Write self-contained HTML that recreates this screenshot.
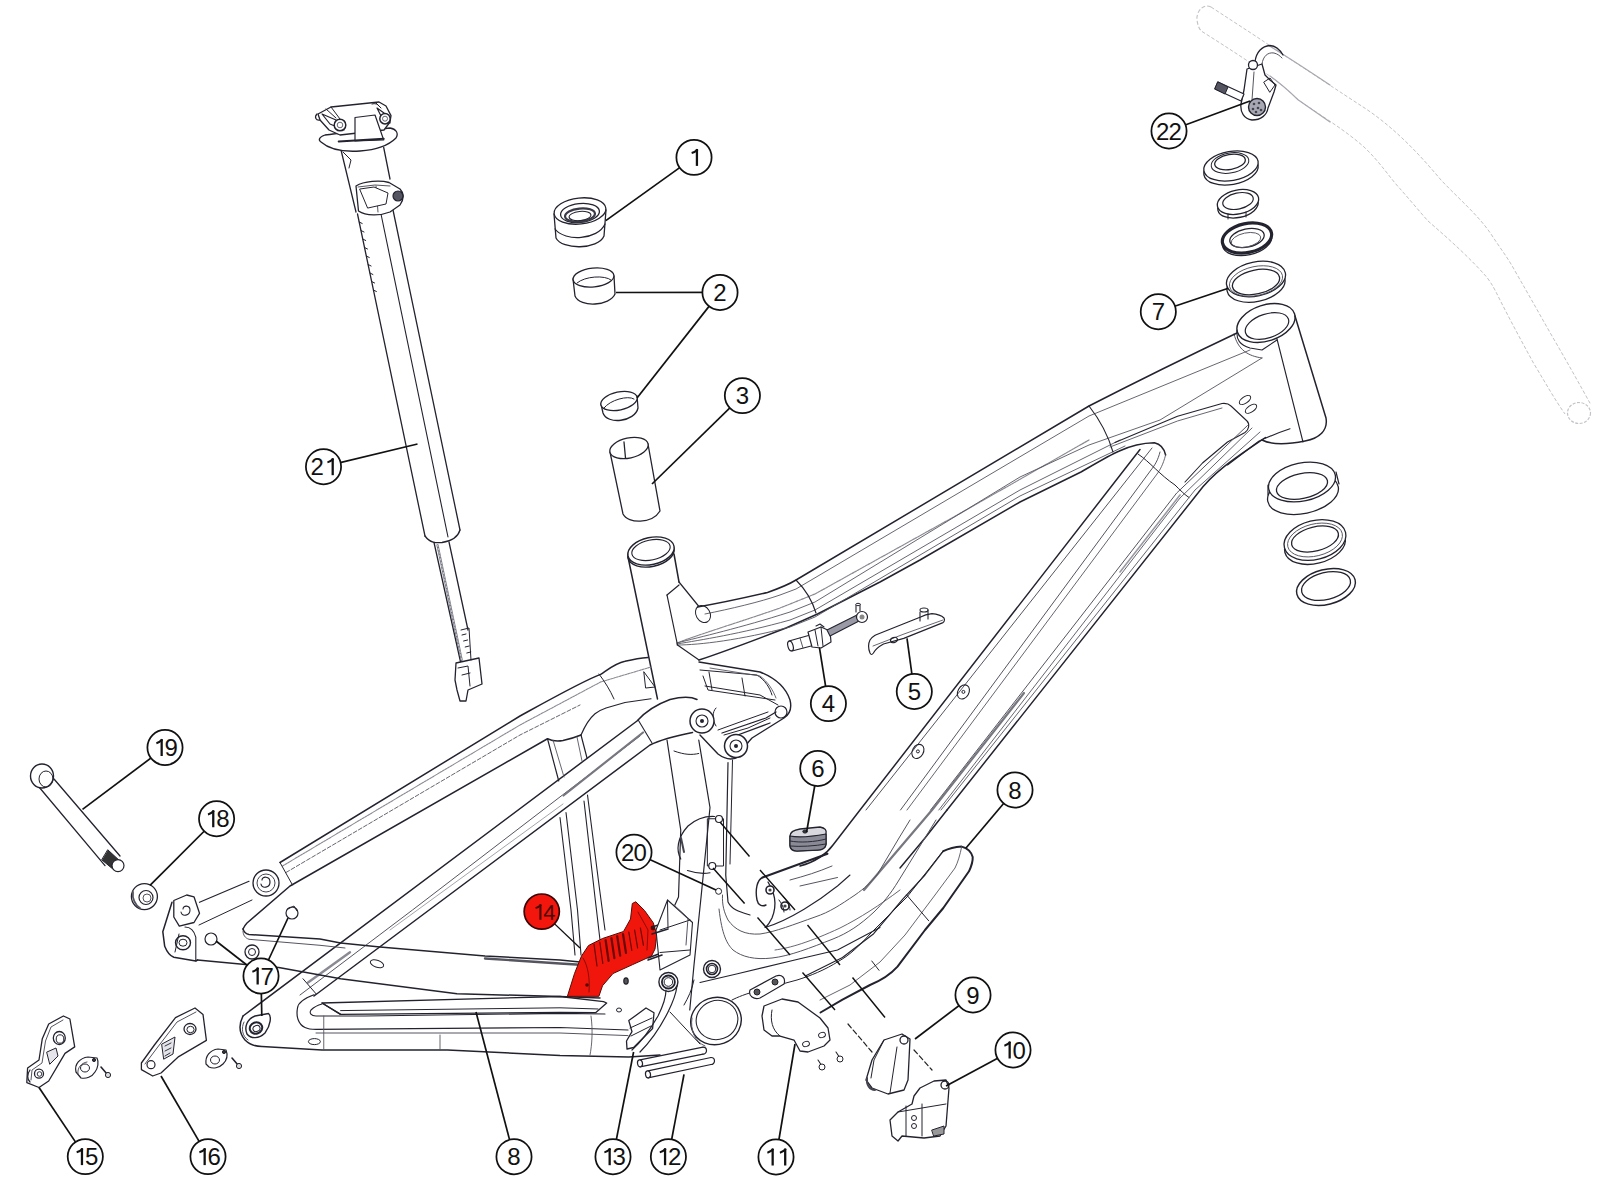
<!DOCTYPE html>
<html><head><meta charset="utf-8"><style>
html,body{margin:0;padding:0;background:#fff;}
svg{display:block;}
text{font-family:"Liberation Sans",sans-serif;}
</style></head><body>
<svg width="1600" height="1200" viewBox="0 0 1600 1200">
<rect width="1600" height="1200" fill="#fff"/>
<ellipse cx="1266" cy="323" rx="30" ry="18" transform="rotate(-18 1266 323)" stroke="#23232f" stroke-width="1.4" fill="#fff"/>
<ellipse cx="1267" cy="326" rx="22.5" ry="12" transform="rotate(-18 1267 326)" stroke="#23232f" stroke-width="1.2" fill="none"/>
<path d="M1295 316 L1326 418 C1328 430 1320 438 1305 441 C1290 444 1272 445 1262 440" stroke="#23232f" stroke-width="1.5" fill="none" stroke-linejoin="round" stroke-linecap="round" />
<path d="M1277 339 L1303 442" stroke="#23232f" stroke-width="1.1" fill="none" stroke-linejoin="round" stroke-linecap="round" />
<path d="M1237 330 C1236 340 1240 345 1250 348 L1262 350 L1277 340" stroke="#23232f" stroke-width="1.1" fill="none" stroke-linejoin="round" stroke-linecap="round" />
<path d="M1234 334 C1238 350 1248 356 1262 358" stroke="#555560" stroke-width="1.0" fill="none" stroke-linejoin="round" stroke-linecap="round" />
<path d="M697.5 607 C715 604 735 600 767.5 592.5 C780 588 788 585 796 580 L1089 406 C1130 385 1180 360 1237 333" stroke="#23232f" stroke-width="1.5" fill="none" stroke-linejoin="round" stroke-linecap="round" />
<path d="M699 660 C720 653 742 645 786 628 L817.5 614 L880 582 L920 560 L1020 502 L1081 472 C1100 461 1110 455 1118.75 451.25 C1128 447 1140 443 1154.4 442.8 C1160 444 1164 448 1165.6 455" stroke="#23232f" stroke-width="1.5" fill="none" stroke-linejoin="round" stroke-linecap="round" />
<path d="M705 614 C730 609 760 602 780 595 L796 589 L1089 416 L1250 350" stroke="#555560" stroke-width="0.9" fill="none" stroke-linejoin="round" stroke-linecap="round" />
<path d="M677 643 C700 634 740 622 780 608 L815 594 L959 514 L1089 440" stroke="#8a8a92" stroke-width="1.2" fill="none" stroke-linejoin="round" stroke-linecap="round" stroke-dasharray="2 1"/>
<path d="M677 643 C700 637 740 628 790 612 L815 602 L1020 477 L1089 445 L1160 420 L1262 358" stroke="#555560" stroke-width="0.9" fill="none" stroke-linejoin="round" stroke-linecap="round" />
<path d="M677 644 C700 640 740 634 790 620 L815 610 L1020 490 L1120 440" stroke="#555560" stroke-width="0.9" fill="none" stroke-linejoin="round" stroke-linecap="round" />
<path d="M677 645 C700 645 740 640 790 627 L815 617 L1020 496 L1125 446" stroke="#555560" stroke-width="0.9" fill="none" stroke-linejoin="round" stroke-linecap="round" />
<path d="M796 580 C806 590 812 600 816 613" stroke="#23232f" stroke-width="1.1" fill="none" stroke-linejoin="round" stroke-linecap="round" />
<path d="M1089 406 C1100 420 1108 435 1113 452" stroke="#23232f" stroke-width="1.1" fill="none" stroke-linejoin="round" stroke-linecap="round" />
<path d="M1115 442.5 L1177.5 416.25 L1222 403.5 C1226 403 1229 404 1231 406 L1247 421 C1250 424 1249 430 1245 432.5 L1227.5 442 L1202.5 463 L1185 482" stroke="#23232f" stroke-width="1.1" fill="none" stroke-linejoin="round" stroke-linecap="round" />
<path d="M1110 447 L1177.5 421 L1222 408" stroke="#555560" stroke-width="0.9" fill="none" stroke-linejoin="round" stroke-linecap="round" />
<ellipse cx="1245" cy="400" rx="6.5" ry="3.2" transform="rotate(-35 1245 400)" stroke="#23232f" stroke-width="1.1" fill="none"/>
<ellipse cx="1251" cy="408.75" rx="6.5" ry="3.2" transform="rotate(-35 1251 408.75)" stroke="#23232f" stroke-width="1.1" fill="none"/>
<path d="M1290 428.75 C1280 432 1268 437 1258.75 441.25 L1227.5 465" stroke="#23232f" stroke-width="1.1" fill="none" stroke-linejoin="round" stroke-linecap="round" />
<path d="M1140 449.5 L860 810 L833 845 C825 856 815 862 800 866" stroke="#23232f" stroke-width="1.5" fill="none" stroke-linejoin="round" stroke-linecap="round" />
<path d="M1152 448 L866 810" stroke="#555560" stroke-width="1.0" fill="none" stroke-linejoin="round" stroke-linecap="round" />
<path d="M1160 452 C1158 460 1155 465 1151 470 L900.5 810" stroke="#555560" stroke-width="1.0" fill="none" stroke-linejoin="round" stroke-linecap="round" />
<path d="M1165.6 455 C1163 465 1160 470 1157 474 L907 810" stroke="#555560" stroke-width="0.9" fill="none" stroke-linejoin="round" stroke-linecap="round" />
<path d="M1138 454 C1150 462 1160 475 1175 485 C1180 490 1185 495 1189 497.5" stroke="#23232f" stroke-width="1.0" fill="none" stroke-linejoin="round" stroke-linecap="round" />
<path d="M1247.5 425.5 L1176.7 493 L930.6 810" stroke="#555560" stroke-width="1.0" fill="none" stroke-linejoin="round" stroke-linecap="round" />
<path d="M1252 428 L1180 498 L938.8 810" stroke="#555560" stroke-width="0.9" fill="none" stroke-linejoin="round" stroke-linecap="round" />
<path d="M1260 432 L1195 490 L941 810" stroke="#555560" stroke-width="0.9" fill="none" stroke-linejoin="round" stroke-linecap="round" />
<path d="M1265.5 437.5 C1240 455 1215 470 1198 493 L947 810" stroke="#23232f" stroke-width="1.5" fill="none" stroke-linejoin="round" stroke-linecap="round" />
<path d="M1180 495 L1120 572" stroke="#9a9aa2" stroke-width="1.6" fill="none" stroke-linejoin="round" stroke-linecap="round" />
<path d="M1024 693 L932 810 L864 890" stroke="#77777f" stroke-width="2.2" fill="none" stroke-linejoin="round" stroke-linecap="round" />
<ellipse cx="963.4" cy="691.9" rx="5.5" ry="7.5" transform="rotate(30 963.4 691.9)" stroke="#23232f" stroke-width="1.1" fill="none"/>
<ellipse cx="963.4" cy="691.9" rx="1.5" ry="1.5" transform="rotate(0 963.4 691.9)" stroke="#23232f" stroke-width="1.0" fill="none"/>
<ellipse cx="917.9" cy="751.4" rx="5.5" ry="7.5" transform="rotate(30 917.9 751.4)" stroke="#23232f" stroke-width="1.1" fill="none"/>
<ellipse cx="917.9" cy="751.4" rx="1.5" ry="1.5" transform="rotate(0 917.9 751.4)" stroke="#23232f" stroke-width="1.0" fill="none"/>
<ellipse cx="651" cy="553" rx="23.5" ry="13.5" transform="rotate(-12 651 553)" stroke="#23232f" stroke-width="1.4" fill="none"/>
<ellipse cx="651" cy="551" rx="23.5" ry="13.5" transform="rotate(-12 651 551)" stroke="#23232f" stroke-width="1.4" fill="#fff"/>
<ellipse cx="651" cy="550" rx="19.5" ry="10" transform="rotate(-12 651 550)" stroke="#23232f" stroke-width="1.1" fill="none"/>
<path d="M628 557 L657.5 699" stroke="#23232f" stroke-width="1.5" fill="none" stroke-linejoin="round" stroke-linecap="round" />
<path d="M674 554 L679 582" stroke="#23232f" stroke-width="1.5" fill="none" stroke-linejoin="round" stroke-linecap="round" />
<path d="M667 595 L677.5 645 L699 660" stroke="#23232f" stroke-width="1.2" fill="none" stroke-linejoin="round" stroke-linecap="round" />
<path d="M667 595 L679 585" stroke="#23232f" stroke-width="1.2" fill="none" stroke-linejoin="round" stroke-linecap="round" />
<path d="M679 582 L698.5 606" stroke="#23232f" stroke-width="1.2" fill="none" stroke-linejoin="round" stroke-linecap="round" />
<ellipse cx="703" cy="614" rx="7" ry="9" transform="rotate(-30 703 614)" stroke="#23232f" stroke-width="1.0" fill="none"/>
<path d="M667 740 L680.75 830 L678.5 897 L668 920" stroke="#23232f" stroke-width="1.2" fill="none" stroke-linejoin="round" stroke-linecap="round" />
<path d="M698.75 740 L710 807.5 L701 897.5 L694 965 L689.75 1010" stroke="#23232f" stroke-width="1.2" fill="none" stroke-linejoin="round" stroke-linecap="round" />
<path d="M728 762.5 L725.75 875 L728 902 C732 910 740 912 750 915" stroke="#23232f" stroke-width="1.2" fill="none" stroke-linejoin="round" stroke-linecap="round" />
<path d="M732.5 760 L730 864" stroke="#23232f" stroke-width="1.0" fill="none" stroke-linejoin="round" stroke-linecap="round" />
<path d="M674 751 C685 755 692 755 698.75 753.5" stroke="#23232f" stroke-width="1.0" fill="none" stroke-linejoin="round" stroke-linecap="round" />
<path d="M947 810 L925 838 C915 850 905 862 900 868" stroke="#23232f" stroke-width="1.5" fill="none" stroke-linejoin="round" stroke-linecap="round" />
<path d="M910 820 L899 838 L877 875 C870 883 865 888 855 895 C840 905 830 912 815 917 C795 924 775 932 760 934 C745 935 735 930 728 920 C724 912 722 905 722.5 895" stroke="#555560" stroke-width="1.0" fill="none" stroke-linejoin="round" stroke-linecap="round" />
<path d="M936 820 L899 880 C890 895 882 904 874 912 C860 925 848 933 833 939 C810 948 790 956 772 958 C755 960 742 957 733 950 C727 944 722 935 719 909" stroke="#555560" stroke-width="1.0" fill="none" stroke-linejoin="round" stroke-linecap="round" />
<path d="M943 851 L907 897 L870 934 C860 945 850 955 839 961 C825 970 810 976 797 980 L760 990 C745 994 738 997 732 1000" stroke="#23232f" stroke-width="1.0" fill="none" stroke-linejoin="round" stroke-linecap="round" />
<path d="M900 890 C880 905 860 918 840 928 C810 942 790 948 775 950" stroke="#555560" stroke-width="0.9" fill="none" stroke-linejoin="round" stroke-linecap="round" />
<path d="M943.3 851.2 C950 848 956 847 961.7 846.6 C967 848 971 851 972.7 857 C973 862 971 867 969 871.3 L943.3 908 L925 930 L897.5 966.7 C890 975 880 981 870 985 L842.5 999.7 L820.5 1012.5" stroke="#23232f" stroke-width="2.0" fill="none" stroke-linejoin="round" stroke-linecap="round" />
<path d="M943.3 851.2 L925 875 L903 898.8 L873.7 933.7 L842.5 957.5 L805.8 975.8" stroke="#23232f" stroke-width="1.2" fill="none" stroke-linejoin="round" stroke-linecap="round" />
<path d="M961.7 846.6 C960 855 958 862 955 868 L935 895 L905 935 L880 962 L850 985 L820 1000" stroke="#555560" stroke-width="0.9" fill="none" stroke-linejoin="round" stroke-linecap="round" />
<path d="M906.7 895 L928.7 920.8" stroke="#23232f" stroke-width="1.0" fill="none" stroke-linejoin="round" stroke-linecap="round" />
<path d="M871.8 961 L879 970.3" stroke="#23232f" stroke-width="1.0" fill="none" stroke-linejoin="round" stroke-linecap="round" />
<path d="M243 1016 L637 721 C645 712 655 705 670 699.5 C680 697 690 696 697 699.5" stroke="#23232f" stroke-width="1.5" fill="none" stroke-linejoin="round" stroke-linecap="round" />
<path d="M300 995 L412.5 910 L562.5 795 L640 736" stroke="#555560" stroke-width="1.0" fill="none" stroke-linejoin="round" stroke-linecap="round" />
<path d="M314 996 L650 745 C660 740 670 737 692.5 732.5" stroke="#23232f" stroke-width="1.5" fill="none" stroke-linejoin="round" stroke-linecap="round" />
<path d="M563.5 795.5 L643 732.5" stroke="#77777f" stroke-width="2.2" fill="none" stroke-linejoin="round" stroke-linecap="round" />
<path d="M308 982.5 L350 952.2" stroke="#8a8a92" stroke-width="2.4" fill="none" stroke-linejoin="round" stroke-linecap="round" />
<path d="M390 930 L563 804" stroke="#9a9aa2" stroke-width="0.9" fill="none" stroke-linejoin="round" stroke-linecap="round" />
<path d="M638.5 720.5 L652 743" stroke="#23232f" stroke-width="1.1" fill="none" stroke-linejoin="round" stroke-linecap="round" />
<path d="M303 978.75 L316 993.75" stroke="#23232f" stroke-width="1.0" fill="none" stroke-linejoin="round" stroke-linecap="round" />
<path d="M243 1016 C239 1024 239 1033 245 1040 C250 1045 256 1046.5 262 1046.5 L322 1050 L447.5 1050 L560 1055.6 L628.8 1057 L660 1055" stroke="#23232f" stroke-width="1.5" fill="none" stroke-linejoin="round" stroke-linecap="round" />
<path d="M247 1034 C244 1027 247 1019 255 1016 L268.5 1013.5 C271.5 1016 271 1025 265 1033 C259 1039 251 1039 247 1034 Z" stroke="#23232f" stroke-width="1.4" fill="none" stroke-linejoin="round" stroke-linecap="round" />
<ellipse cx="256" cy="1028" rx="6.3" ry="5.6" transform="rotate(-20 256 1028)" stroke="#23232f" stroke-width="2.0" fill="none"/>
<ellipse cx="256.5" cy="1028.5" rx="3.6" ry="3" transform="rotate(-20 256.5 1028.5)" stroke="#23232f" stroke-width="1.0" fill="none"/>
<path d="M244 1022 C241 1028 242 1036 248 1040" stroke="#555560" stroke-width="1.0" fill="none" stroke-linejoin="round" stroke-linecap="round" />
<path d="M314 994.7 C305 998 298 1002 297.5 1008 C296 1016 298 1024 305 1027.5 C308 1029 312 1029.4 316 1029.4 L560 1027.5 L628 1030" stroke="#23232f" stroke-width="1.2" fill="none" stroke-linejoin="round" stroke-linecap="round" />
<path d="M322 1004 C318 1005 314 1007 311 1010 C309 1013 311 1016 316 1016 L365 1016 L560 1013.4 L605 1014" stroke="#23232f" stroke-width="1.1" fill="none" stroke-linejoin="round" stroke-linecap="round" />
<path d="M316 1033 L560 1033 L628 1035.6" stroke="#555560" stroke-width="1.0" fill="none" stroke-linejoin="round" stroke-linecap="round" />
<path d="M323.75 1016 L323.75 1050" stroke="#555560" stroke-width="0.9" fill="none" stroke-linejoin="round" stroke-linecap="round" />
<path d="M440 1035 L440 1050" stroke="#555560" stroke-width="0.9" fill="none" stroke-linejoin="round" stroke-linecap="round" />
<path d="M591 1016 C593 1030 592 1045 590 1055" stroke="#555560" stroke-width="0.9" fill="none" stroke-linejoin="round" stroke-linecap="round" />
<ellipse cx="314.4" cy="1041.6" rx="6" ry="3" transform="rotate(0 314.4 1041.6)" stroke="#23232f" stroke-width="1.0" fill="none"/>
<path d="M322 1003 L560 996.5 L603.5 1001.6 L606.7 1003 L595.6 1012.7 L560 1012.5 L340.6 1014.4 Z" stroke="#23232f" stroke-width="1.3" fill="#fff" stroke-linejoin="round" stroke-linecap="round" />
<path d="M340.6 1010.6 L560 1007.8 L598 1009" stroke="#23232f" stroke-width="1.0" fill="none" stroke-linejoin="round" stroke-linecap="round" />
<path d="M322 1003 L340.6 1014.4" stroke="#23232f" stroke-width="1.3" fill="none" stroke-linejoin="round" stroke-linecap="round" />
<path d="M243 929 C244 932 246 934 249 934.5 L320 939 L340.6 943 L380 947 L485 956 L560 960 L600 964" stroke="#23232f" stroke-width="1.5" fill="none" stroke-linejoin="round" stroke-linecap="round" />
<path d="M243 931 C243 935 245 938 249 939.3 L320 945.3 L345 948" stroke="#555560" stroke-width="1.0" fill="none" stroke-linejoin="round" stroke-linecap="round" />
<path d="M197.5 960 L278.75 967.5 L340.6 978.75 L457 993.75 L560 996.5 L600 998" stroke="#23232f" stroke-width="1.5" fill="none" stroke-linejoin="round" stroke-linecap="round" />
<path d="M485 958.5 L560 963.5 L600 966" stroke="#55555f" stroke-width="2.4" fill="none" stroke-linejoin="round" stroke-linecap="round" />
<ellipse cx="377" cy="963.75" rx="7" ry="3.5" transform="rotate(20 377 963.75)" stroke="#23232f" stroke-width="1.0" fill="none"/>
<path d="M199.5 902.3 L249 881.25" stroke="#23232f" stroke-width="1.2" fill="none" stroke-linejoin="round" stroke-linecap="round" />
<path d="M280 862.5 L520 716 C560 694 585 680 600.6 674.4 C610 668 616 663 625 661.25 C635 659 642 658 648 657.5" stroke="#23232f" stroke-width="1.5" fill="none" stroke-linejoin="round" stroke-linecap="round" />
<path d="M243 929 C244 927 245 925 247 923 L290 886 L547.5 738.75 C552 741 558 741.5 563 740.6 C570 739 576 737 581 735" stroke="#23232f" stroke-width="1.5" fill="none" stroke-linejoin="round" stroke-linecap="round" />
<path d="M581 735 C584 728 590 718 595 713.75 C600 710 603 709 606 708 L625 702.5 L651 698.75" stroke="#23232f" stroke-width="1.2" fill="none" stroke-linejoin="round" stroke-linecap="round" />
<path d="M282.5 866 L520 725 L600.6 682 L651 667" stroke="#8a8a92" stroke-width="1.1" fill="none" stroke-linejoin="round" stroke-linecap="round" stroke-dasharray="2 1"/>
<path d="M286 872.5 L520 735 L580 705" stroke="#555560" stroke-width="0.9" fill="none" stroke-linejoin="round" stroke-linecap="round" stroke-dasharray="4 2"/>
<path d="M599 674 C605 682 610 690 614 699" stroke="#23232f" stroke-width="1.0" fill="none" stroke-linejoin="round" stroke-linecap="round" />
<path d="M644 672 L655 687 L646 688 Z" stroke="#23232f" stroke-width="1.0" fill="none" stroke-linejoin="round" stroke-linecap="round" />
<path d="M280 862.5 L292.5 885" stroke="#23232f" stroke-width="1.0" fill="none" stroke-linejoin="round" stroke-linecap="round" />
<path d="M199 925 L252 900" stroke="#23232f" stroke-width="1.0" fill="none" stroke-linejoin="round" stroke-linecap="round" />
<circle cx="266" cy="883" r="13" fill="#fff" stroke="#23232f" stroke-width="1.3"/>
<circle cx="266" cy="883" r="9" fill="none" stroke="#44444f" stroke-width="1.0"/>
<path d="M262 880 C262 876 270 876 270 882 C270 888 262 889 261 884" stroke="#23232f" stroke-width="1.2" fill="none" stroke-linejoin="round" stroke-linecap="round" />
<path d="M547.5 738.75 L558.75 781" stroke="#23232f" stroke-width="1.2" fill="none" stroke-linejoin="round" stroke-linecap="round" />
<path d="M553 740 L564 777" stroke="#555560" stroke-width="0.9" fill="none" stroke-linejoin="round" stroke-linecap="round" />
<path d="M581 735 L587 758" stroke="#23232f" stroke-width="1.2" fill="none" stroke-linejoin="round" stroke-linecap="round" />
<path d="M577 737 L582 761" stroke="#555560" stroke-width="0.9" fill="none" stroke-linejoin="round" stroke-linecap="round" />
<path d="M560 817.5 L571 910 L575 955" stroke="#23232f" stroke-width="1.1" fill="none" stroke-linejoin="round" stroke-linecap="round" />
<path d="M566 812.5 L577.5 910 L581 955" stroke="#23232f" stroke-width="1.1" fill="none" stroke-linejoin="round" stroke-linecap="round" />
<path d="M584 801 L595 897.5 L600 940" stroke="#23232f" stroke-width="1.1" fill="none" stroke-linejoin="round" stroke-linecap="round" />
<path d="M587.5 795 L599 885 L605 930" stroke="#23232f" stroke-width="1.1" fill="none" stroke-linejoin="round" stroke-linecap="round" />
<path d="M173.8 900.5 L186.7 895 L194 896.8 L199.5 913.3 L194 922.5 L179.3 926.2 L173.8 917 Z" stroke="#23232f" stroke-width="1.3" fill="#fff" stroke-linejoin="round" stroke-linecap="round" />
<path d="M172 902.3 L162.8 931.7 L164.7 946.3 C167 952 170 956 173.8 957.3 L195.8 961 L197.5 960" stroke="#23232f" stroke-width="1.5" fill="none" stroke-linejoin="round" stroke-linecap="round" />
<path d="M195.8 961 L195.8 937.2 C194 930 190 927 185 927" stroke="#23232f" stroke-width="1.1" fill="none" stroke-linejoin="round" stroke-linecap="round" />
<ellipse cx="183" cy="942.7" rx="7.5" ry="7" transform="rotate(0 183 942.7)" stroke="#23232f" stroke-width="1.4" fill="none"/>
<ellipse cx="183" cy="942.7" rx="4" ry="3.5" transform="rotate(0 183 942.7)" stroke="#23232f" stroke-width="1.0" fill="none"/>
<path d="M183 909 C183 905 190 905 190 910 C190 916 182 917 181 912" stroke="#23232f" stroke-width="1.1" fill="none" stroke-linejoin="round" stroke-linecap="round" />
<path d="M179 934 L175 952" stroke="#23232f" stroke-width="1.0" fill="none" stroke-linejoin="round" stroke-linecap="round" />
<ellipse cx="716" cy="1021" rx="25.5" ry="23.5" transform="rotate(-20 716 1021)" stroke="#23232f" stroke-width="1.4" fill="#fff"/>
<ellipse cx="717" cy="1020" rx="21" ry="19.5" transform="rotate(-20 717 1020)" stroke="#23232f" stroke-width="1.1" fill="none"/>
<path d="M692 1018 C690 1030 695 1042 705 1046" stroke="#555560" stroke-width="1.0" fill="none" stroke-linejoin="round" stroke-linecap="round" />
<path d="M699 662 L760 672 C775 678 786 688 790 700 C792 708 790 714 784 718 L752 738 C746 744 743 750 740 756 C734 760 726 760 718 754 L700 735" stroke="#23232f" stroke-width="1.4" fill="#fff" stroke-linejoin="round" stroke-linecap="round" />
<path d="M700 670 L757 675 C765 680 770 688 772 695" stroke="#23232f" stroke-width="1.0" fill="none" stroke-linejoin="round" stroke-linecap="round" />
<path d="M705 686 L760 695 L778 705" stroke="#23232f" stroke-width="1.0" fill="none" stroke-linejoin="round" stroke-linecap="round" />
<path d="M718 730 L740 722 L768 712" stroke="#23232f" stroke-width="1.0" fill="none" stroke-linejoin="round" stroke-linecap="round" />
<path d="M724 735 L748 728 L770 718" stroke="#23232f" stroke-width="1.0" fill="none" stroke-linejoin="round" stroke-linecap="round" />
<ellipse cx="781" cy="712" rx="6" ry="6" transform="rotate(0 781 712)" stroke="#23232f" stroke-width="1.2" fill="none"/>
<path d="M709 672 L712 690 M742 678 L745 696" stroke="#23232f" stroke-width="1.0" fill="none" stroke-linejoin="round" stroke-linecap="round" />
<path d="M703 676 L708 690 L775 700" stroke="#23232f" stroke-width="1.0" fill="none" stroke-linejoin="round" stroke-linecap="round" />
<path d="M710 668 L760 676 C768 682 773 690 776 698" stroke="#555560" stroke-width="0.9" fill="none" stroke-linejoin="round" stroke-linecap="round" />
<path d="M722 733 L766 718 L776 712 M727 739 L770 723" stroke="#23232f" stroke-width="1.3" fill="none" stroke-linejoin="round" stroke-linecap="round" />
<path d="M716 726 C712 720 712 712 716 708" stroke="#23232f" stroke-width="1.0" fill="none" stroke-linejoin="round" stroke-linecap="round" />
<circle cx="702" cy="721" r="12" fill="#fff" stroke="#23232f" stroke-width="1.5"/>
<circle cx="702" cy="721" r="6" fill="none" stroke="#23232f" stroke-width="1.1"/>
<circle cx="702" cy="721" r="2" fill="#23232f"/>
<circle cx="736" cy="746" r="11.5" fill="#fff" stroke="#23232f" stroke-width="1.5"/>
<circle cx="736" cy="746" r="6" fill="none" stroke="#23232f" stroke-width="1.1"/>
<circle cx="736" cy="746" r="2" fill="#23232f"/>
<path d="M1211 7 C1240 26 1262 40 1280 52.5 C1310 72 1340 92 1364 107.6 C1395 128 1420 155 1441 180 C1460 200 1478 215 1491 234 C1500 248 1508 258 1515 271 C1530 297 1540 315 1552 336 C1566 360 1580 385 1591 405" stroke="#c2c2c8" stroke-width="1.0" fill="none" stroke-dasharray="3.5 2"/>
<path d="M1202 31.5 C1225 46 1248 61 1266 73.5 C1280 83 1290 92 1298 99.7 C1320 115 1345 130 1364 147 C1380 162 1390 178 1400 188.7 C1410 200 1420 212 1428 221 C1450 240 1472 260 1487 277.5 C1492 284 1495 290 1497.5 295 C1510 320 1522 342 1534 364 C1545 382 1555 400 1565 414" stroke="#c2c2c8" stroke-width="1.0" fill="none" stroke-dasharray="3.5 2"/>
<path d="M1211 7 C1203 3 1196 12 1197 20 C1198 27 1200 30 1202 31.5" stroke="#c2c2c8" stroke-width="1.1" fill="none" stroke-dasharray="4 2"/>
<ellipse cx="1579" cy="413" rx="11.5" ry="10.5" stroke="#c2c2c8" stroke-width="1.2" fill="#fff" stroke-dasharray="3 1.5"/>
<path d="M1268 45 C1272 47.5 1276 50 1280 52.5 C1300 65 1315 75 1330 85" stroke="#a8a8b0" stroke-width="1.2" fill="none" stroke-linejoin="round" stroke-linecap="round" />
<path d="M1270 76 C1280 83 1290 92 1298 99.7 C1310 108 1320 115 1330 122" stroke="#a8a8b0" stroke-width="1.2" fill="none" stroke-linejoin="round" stroke-linecap="round" />
<path d="M1255 62 C1256 52 1262 46 1270 45.5 C1276 46 1280 50 1283 55" stroke="#23232f" stroke-width="1.3" fill="none" stroke-linejoin="round" stroke-linecap="round" />
<path d="M1262 64 C1263 56 1268 52 1274 53 C1278 54 1280 56 1282 58" stroke="#555560" stroke-width="1.0" fill="none" stroke-linejoin="round" stroke-linecap="round" />
<path d="M1247 69 L1244 90 L1241 104 C1240 112 1244 119 1252 120 C1261 120 1267 115 1268 108 L1274 92 L1276 85 L1270 80 L1265 75 L1262 64 Z" stroke="#23232f" stroke-width="1.3" fill="#fff" stroke-linejoin="round" stroke-linecap="round" />
<path d="M1254 72 L1252 100" stroke="#555560" stroke-width="1.0" fill="none" stroke-linejoin="round" stroke-linecap="round" />
<circle cx="1253" cy="65" r="4.5" fill="#fff" stroke="#23232f" stroke-width="1.3"/>
<circle cx="1257" cy="107" r="8.5" fill="#a8a8b4" stroke="#23232f" stroke-width="1.4"/>
<circle cx="1254" cy="104" r="1.3" fill="#44444f"/>
<circle cx="1259" cy="103" r="1.3" fill="#44444f"/>
<circle cx="1253" cy="109" r="1.3" fill="#44444f"/>
<circle cx="1258" cy="108" r="1.3" fill="#44444f"/>
<circle cx="1261" cy="110" r="1.3" fill="#44444f"/>
<circle cx="1256" cy="112" r="1.3" fill="#44444f"/>
<path d="M1264 82 L1270 78 L1275 85 L1270 92 Z" stroke="#23232f" stroke-width="1.0" fill="none" stroke-linejoin="round" stroke-linecap="round" />
<path d="M1218 82 L1244 94 L1241 101 L1215 89 Z" stroke="#23232f" stroke-width="1.2" fill="#fff" stroke-linejoin="round" stroke-linecap="round" />
<path d="M1218 82 L1228 87 L1225 94 L1215 89 Z" stroke="#23232f" stroke-width="1.0" fill="#555562" stroke-linejoin="round" stroke-linecap="round" />
<ellipse cx="1231" cy="170" rx="27.5" ry="14.5" transform="rotate(-10 1231 170)" stroke="#23232f" stroke-width="1.3" fill="none"/>
<ellipse cx="1231" cy="166" rx="27.5" ry="14.5" transform="rotate(-10 1231 166)" stroke="#23232f" stroke-width="1.3" fill="#fff"/>
<ellipse cx="1230" cy="163" rx="19" ry="10" transform="rotate(-10 1230 163)" stroke="#23232f" stroke-width="1.0" fill="none"/>
<ellipse cx="1230" cy="162" rx="15.5" ry="7.5" transform="rotate(-10 1230 162)" stroke="#23232f" stroke-width="1.3" fill="none"/>
<ellipse cx="1238" cy="206" rx="20.5" ry="11.5" transform="rotate(-12 1238 206)" stroke="#23232f" stroke-width="1.3" fill="none"/>
<ellipse cx="1238" cy="202" rx="21" ry="12" transform="rotate(-12 1238 202)" stroke="#23232f" stroke-width="1.3" fill="#fff"/>
<ellipse cx="1238" cy="201" rx="15.5" ry="8" transform="rotate(-12 1238 201)" stroke="#23232f" stroke-width="1.2" fill="none"/>
<path d="M1228 214 L1228 219 M1246 212 L1246 217" stroke="#23232f" stroke-width="1.0" fill="none" stroke-linejoin="round" stroke-linecap="round" />
<ellipse cx="1247" cy="241" rx="25" ry="14" transform="rotate(-12 1247 241)" stroke="#23232f" stroke-width="1.3" fill="none"/>
<ellipse cx="1247" cy="238" rx="25" ry="14.5" transform="rotate(-12 1247 238)" stroke="#23232f" stroke-width="3.2" fill="#fff"/>
<ellipse cx="1247" cy="238" rx="17.5" ry="9" transform="rotate(-12 1247 238)" stroke="#23232f" stroke-width="1.3" fill="none"/>
<ellipse cx="1246" cy="240" rx="15" ry="7" transform="rotate(-12 1246 240)" stroke="#555560" stroke-width="0.9" fill="none"/>
<ellipse cx="1256" cy="285" rx="29.5" ry="16.5" transform="rotate(-12 1256 285)" stroke="#23232f" stroke-width="1.3" fill="none"/>
<ellipse cx="1256" cy="279" rx="30" ry="17" transform="rotate(-12 1256 279)" stroke="#23232f" stroke-width="1.3" fill="#fff"/>
<ellipse cx="1256" cy="282" rx="24" ry="12" transform="rotate(-12 1256 282)" stroke="#23232f" stroke-width="1.3" fill="none"/>
<ellipse cx="1256" cy="281" rx="27" ry="14.5" transform="rotate(-12 1256 281)" stroke="#555560" stroke-width="0.9" fill="none"/>
<ellipse cx="1303" cy="494" rx="36" ry="19.5" transform="rotate(-12 1303 494)" stroke="#23232f" stroke-width="1.3" fill="none"/>
<ellipse cx="1302" cy="482" rx="34" ry="19" transform="rotate(-12 1302 482)" stroke="#23232f" stroke-width="1.3" fill="#fff"/>
<ellipse cx="1302" cy="486" rx="26" ry="12.5" transform="rotate(-12 1302 486)" stroke="#23232f" stroke-width="1.3" fill="none"/>
<path d="M1268 485 L1268 495 M1336 472 L1339 484" stroke="#23232f" stroke-width="1.2" fill="none" stroke-linejoin="round" stroke-linecap="round" />
<ellipse cx="1315" cy="545" rx="31" ry="18.5" transform="rotate(-14 1315 545)" stroke="#23232f" stroke-width="1.3" fill="none"/>
<ellipse cx="1315" cy="540" rx="31.5" ry="19.5" transform="rotate(-14 1315 540)" stroke="#23232f" stroke-width="1.3" fill="#fff"/>
<ellipse cx="1315" cy="539" rx="24" ry="12" transform="rotate(-14 1315 539)" stroke="#23232f" stroke-width="1.3" fill="none"/>
<ellipse cx="1315" cy="540" rx="28" ry="16" transform="rotate(-14 1315 540)" stroke="#555560" stroke-width="0.9" fill="none"/>
<ellipse cx="1326" cy="587" rx="30" ry="17.5" transform="rotate(-14 1326 587)" stroke="#23232f" stroke-width="1.4" fill="#fff"/>
<ellipse cx="1326" cy="586" rx="25" ry="13.5" transform="rotate(-14 1326 586)" stroke="#23232f" stroke-width="1.3" fill="none"/>
<path d="M357.5 214 L425 536" stroke="#23232f" stroke-width="1.3" fill="none" stroke-linejoin="round" stroke-linecap="round" />
<path d="M393 210 L460 530" stroke="#23232f" stroke-width="1.3" fill="none" stroke-linejoin="round" stroke-linecap="round" />
<path d="M381 214 L448 537" stroke="#23232f" stroke-width="1.1" fill="none" stroke-linejoin="round" stroke-linecap="round" />
<path d="M425 536 C430 543 436 543 442 542.5 C452 541 458 537 460 530" stroke="#23232f" stroke-width="1.3" fill="none" stroke-linejoin="round" stroke-linecap="round" />
<path d="M359.2 222.0 L362.2 223.5" stroke="#23232f" stroke-width="1.0" fill="none" stroke-linejoin="round" stroke-linecap="round" />
<path d="M361.0 230.5 L364.0 232.0" stroke="#23232f" stroke-width="1.0" fill="none" stroke-linejoin="round" stroke-linecap="round" />
<path d="M362.7 239.0 L365.7 240.5" stroke="#23232f" stroke-width="1.0" fill="none" stroke-linejoin="round" stroke-linecap="round" />
<path d="M364.5 247.5 L367.5 249.0" stroke="#23232f" stroke-width="1.0" fill="none" stroke-linejoin="round" stroke-linecap="round" />
<path d="M366.3 256.0 L369.3 257.5" stroke="#23232f" stroke-width="1.0" fill="none" stroke-linejoin="round" stroke-linecap="round" />
<path d="M368.1 264.5 L371.1 266.0" stroke="#23232f" stroke-width="1.0" fill="none" stroke-linejoin="round" stroke-linecap="round" />
<path d="M369.9 273.0 L372.9 274.5" stroke="#23232f" stroke-width="1.0" fill="none" stroke-linejoin="round" stroke-linecap="round" />
<path d="M371.6 281.5 L374.6 283.0" stroke="#23232f" stroke-width="1.0" fill="none" stroke-linejoin="round" stroke-linecap="round" />
<path d="M373.4 290.0 L376.4 291.5" stroke="#23232f" stroke-width="1.0" fill="none" stroke-linejoin="round" stroke-linecap="round" />
<path d="M341 150 L356 212" stroke="#23232f" stroke-width="1.3" fill="none" stroke-linejoin="round" stroke-linecap="round" />
<path d="M383.7 147.5 L390 179" stroke="#23232f" stroke-width="1.3" fill="none" stroke-linejoin="round" stroke-linecap="round" />
<path d="M356 186 L358.5 211 C366 216 380 216 390 212 L400 205 C404 199 404 193 400 189 L389 182.5 C380 180 364 181 356 186 Z" stroke="#23232f" stroke-width="1.3" fill="#fff" stroke-linejoin="round" stroke-linecap="round" />
<path d="M358 187 L375 185 L390 186" stroke="#555560" stroke-width="1.0" fill="none" stroke-linejoin="round" stroke-linecap="round" />
<path d="M376 186 L378 212" stroke="#555560" stroke-width="1.0" fill="none" stroke-linejoin="round" stroke-linecap="round" />
<circle cx="398" cy="196" r="5" fill="#555562" stroke="#23232f" stroke-width="1.2"/>
<path d="M360 189 L374 187 L388 193 L386 204 L368 208 Z" stroke="#23232f" stroke-width="1.0" fill="#fff" stroke-linejoin="round" stroke-linecap="round" />
<path d="M321 142 C330 150 345 152 360 151 C375 150 388 146 396 138 C399 133 396 129 390 128 C375 130 340 133 325 135 C319 137 318 140 321 142 Z" stroke="#23232f" stroke-width="1.3" fill="#fff" stroke-linejoin="round" stroke-linecap="round" />
<path d="M331 107 L379 102 L386 106 L391 115.6 L390 122 L384 130 L340 135 L329 130 L320 120 L318 114 Z" stroke="#23232f" stroke-width="1.3" fill="#fff" stroke-linejoin="round" stroke-linecap="round" />
<path d="M355 117.5 L375 115 L383.7 140 L355 141 Z" stroke="#23232f" stroke-width="1.2" fill="#fff" stroke-linejoin="round" stroke-linecap="round" />
<path d="M322 114 L336 120 L344 130 L330 124 Z" stroke="#23232f" stroke-width="1.2" fill="#fff" stroke-linejoin="round" stroke-linecap="round" />
<path d="M326 109 L336 118 M331 107 L340 119" stroke="#23232f" stroke-width="1.0" fill="none" stroke-linejoin="round" stroke-linecap="round" />
<circle cx="340" cy="125" r="5.8" fill="#fff" stroke="#23232f" stroke-width="1.5"/>
<circle cx="340" cy="125" r="2.8" fill="none" stroke="#55555f" stroke-width="0.9"/>
<path d="M377 108 L384 113 L390 123 L382 118 Z" stroke="#23232f" stroke-width="1.2" fill="#fff" stroke-linejoin="round" stroke-linecap="round" />
<circle cx="385" cy="118.7" r="5.2" fill="#fff" stroke="#23232f" stroke-width="1.5"/>
<circle cx="385" cy="118.7" r="2.5" fill="none" stroke="#55555f" stroke-width="0.9"/>
<path d="M372 104 C375 103 378 104 379 106 M376 103 L381 108" stroke="#23232f" stroke-width="1.0" fill="none" stroke-linejoin="round" stroke-linecap="round" />
<path d="M343 152 L351 160 L349 168" stroke="#23232f" stroke-width="1.0" fill="none" stroke-linejoin="round" stroke-linecap="round" />
<path d="M338.7 141.5 L383.7 138.7" stroke="#23232f" stroke-width="2.0" fill="none" stroke-linejoin="round" stroke-linecap="round" />
<path d="M317 114 C314 117 316 121 320 120" stroke="#23232f" stroke-width="1.2" fill="none" stroke-linejoin="round" stroke-linecap="round" />
<path d="M434 542.5 L461.7 667" stroke="#23232f" stroke-width="1.3" fill="none" stroke-linejoin="round" stroke-linecap="round" />
<path d="M449 542 L468 630" stroke="#23232f" stroke-width="1.3" fill="none" stroke-linejoin="round" stroke-linecap="round" />
<path d="M437.5 545 L461.7 660" stroke="#777784" stroke-width="2.2" fill="none" stroke-linejoin="round" stroke-linecap="round" />
<path d="M437.5 545 L461.7 660" stroke="#ffffff" stroke-width="0.6" fill="none" stroke-linejoin="round" stroke-linecap="round" stroke-dasharray="1.5 2"/>
<path d="M456 663 L479 658 L482 684 L468 690 L466 701 L460 701 L457 690 L455 680 Z" stroke="#23232f" stroke-width="1.3" fill="#fff" stroke-linejoin="round" stroke-linecap="round" />
<path d="M458 668 L468 666 L470 686 M462 675 L470 673" stroke="#23232f" stroke-width="1.0" fill="none" stroke-linejoin="round" stroke-linecap="round" />
<path d="M461 630 L469 628 L471 660" stroke="#23232f" stroke-width="1.0" fill="none" stroke-linejoin="round" stroke-linecap="round" />
<path d="M462.0 635 L466.0 634" stroke="#23232f" stroke-width="1.0" fill="none" stroke-linejoin="round" stroke-linecap="round" />
<path d="M463.6 641 L467.6 640" stroke="#23232f" stroke-width="1.0" fill="none" stroke-linejoin="round" stroke-linecap="round" />
<path d="M465.2 647 L469.2 646" stroke="#23232f" stroke-width="1.0" fill="none" stroke-linejoin="round" stroke-linecap="round" />
<path d="M466.8 653 L470.8 652" stroke="#23232f" stroke-width="1.0" fill="none" stroke-linejoin="round" stroke-linecap="round" />
<path d="M554 214 L556 238 C562 250 598 250 604 236 L606 210" stroke="#23232f" stroke-width="1.3" fill="#fff" stroke-linejoin="round" stroke-linecap="round" />
<ellipse cx="580" cy="211" rx="26" ry="13" transform="rotate(-6 580 211)" stroke="#23232f" stroke-width="1.3" fill="#fff"/>
<path d="M555 229 C565 242 598 240 605 224" stroke="#23232f" stroke-width="1.2" fill="none" stroke-linejoin="round" stroke-linecap="round" />
<ellipse cx="580" cy="213" rx="19.5" ry="9.5" transform="rotate(-6 580 213)" stroke="#23232f" stroke-width="1.3" fill="none"/>
<ellipse cx="580" cy="215" rx="15" ry="6.5" transform="rotate(-6 580 215)" stroke="#3a3a48" stroke-width="2.2" fill="none"/>
<ellipse cx="580" cy="216" rx="11" ry="4.5" transform="rotate(-6 580 216)" stroke="#23232f" stroke-width="1.0" fill="none"/>
<path d="M573 279 L575 296 C580 308 610 306 615 294 L614 276" stroke="#23232f" stroke-width="1.3" fill="#fff" stroke-linejoin="round" stroke-linecap="round" />
<ellipse cx="593.5" cy="277.5" rx="20.5" ry="9.5" transform="rotate(-6 593.5 277.5)" stroke="#23232f" stroke-width="1.3" fill="#fff"/>
<path d="M577 283 C585 276 605 275 611 280" stroke="#23232f" stroke-width="1.0" fill="none" stroke-linejoin="round" stroke-linecap="round" />
<path d="M601 404 L603 413 C607 425 635 422 638 408 L637 396" stroke="#23232f" stroke-width="1.3" fill="#fff" stroke-linejoin="round" stroke-linecap="round" />
<ellipse cx="619" cy="401" rx="18.5" ry="9" transform="rotate(-12 619 401)" stroke="#23232f" stroke-width="1.3" fill="#fff"/>
<path d="M604 408 C610 400 628 395 634 399" stroke="#23232f" stroke-width="1.0" fill="none" stroke-linejoin="round" stroke-linecap="round" />
<path d="M610 452 L623 514 C628 524 652 524 660 511 L648 444" stroke="#23232f" stroke-width="1.3" fill="#fff" stroke-linejoin="round" stroke-linecap="round" />
<ellipse cx="629" cy="448" rx="19.5" ry="10" transform="rotate(-12 629 448)" stroke="#23232f" stroke-width="1.3" fill="#fff"/>
<path d="M624 442 L625.5 458" stroke="#23232f" stroke-width="1.3" fill="none" stroke-linejoin="round" stroke-linecap="round" />
<path d="M789 641 L812 634.5 L815 645 L792 651 Z" stroke="#23232f" stroke-width="1.2" fill="#fff" stroke-linejoin="round" stroke-linecap="round" />
<ellipse cx="790.5" cy="646" rx="2.6" ry="5" transform="rotate(-15 790.5 646)" stroke="#23232f" stroke-width="1.2" fill="#fff"/>
<path d="M800 638 L803 648" stroke="#555560" stroke-width="1.0" fill="none" stroke-linejoin="round" stroke-linecap="round" />
<path d="M808 632 L821 627 L830 631 L831 642 L821 648 L812 647 Z" stroke="#23232f" stroke-width="1.2" fill="#fff" stroke-linejoin="round" stroke-linecap="round" />
<path d="M815 630 L818 646 M821 627 L823 646" stroke="#23232f" stroke-width="1.0" fill="none" stroke-linejoin="round" stroke-linecap="round" />
<path d="M816 626 L820 624 L824 627" stroke="#23232f" stroke-width="1.1" fill="none" stroke-linejoin="round" stroke-linecap="round" />
<path d="M827 630 L858 614.5 L861 620 L830 636 Z" stroke="#23232f" stroke-width="1.1" fill="#9a9aa6" stroke-linejoin="round" stroke-linecap="round" />
<circle cx="862" cy="617" r="5.5" fill="#fff" stroke="#23232f" stroke-width="1.2"/>
<circle cx="862" cy="617" r="2.5" fill="#888" stroke="none"/>
<path d="M856 605 L856 612 M860 604 L860 611" stroke="#23232f" stroke-width="1.1" fill="none" stroke-linejoin="round" stroke-linecap="round" />
<ellipse cx="858" cy="604.5" rx="2.2" ry="1.2" transform="rotate(0 858 604.5)" stroke="#23232f" stroke-width="1.0" fill="#fff"/>
<path d="M870 653 C868 648 868 644 870 640 C872 637 874 636 875.6 635 L920.6 617 C924 615 928 614 931.9 613.6 C937 614 942 616 944 618 C945 620 944 622 943 622.6 L903.75 638.4 L883.5 644 C878 647 875 650 873.4 653 C872 655 871 655 870 653 Z" stroke="#23232f" stroke-width="1.2" fill="#fff" stroke-linejoin="round" stroke-linecap="round" />
<path d="M873 646 L904 634 L943 620" stroke="#555560" stroke-width="0.9" fill="none" stroke-linejoin="round" stroke-linecap="round" />
<path d="M920 612 L920 621 M928 610 L928 619" stroke="#23232f" stroke-width="1.1" fill="none" stroke-linejoin="round" stroke-linecap="round" />
<ellipse cx="924" cy="610" rx="4" ry="2" transform="rotate(0 924 610)" stroke="#23232f" stroke-width="1.1" fill="none"/>
<ellipse cx="894" cy="640" rx="3.5" ry="2.5" transform="rotate(-20 894 640)" stroke="#23232f" stroke-width="1.2" fill="none"/>
<path d="M790 836 C790 832 794 830 800 829 L820 827 C825 828 827 830 826 834 L826 844 C826 848 822 850 818 850 L797 851 C793 851 790 849 790 845 Z" stroke="#23232f" stroke-width="1.4" fill="#d8d8de" stroke-linejoin="round" stroke-linecap="round" />
<path d="M790 836 C800 838 815 836 826 834 L826 844 C826 848 822 850 818 850 L797 851 C793 851 790 849 790 845 Z" stroke="#23232f" stroke-width="1.2" fill="#8a8a96" stroke-linejoin="round" stroke-linecap="round" />
<path d="M790 841 C800 843 815 842 826 839" stroke="#2a2a35" stroke-width="1.0" fill="none" stroke-linejoin="round" stroke-linecap="round" />
<path d="M790 846 C800 847 815 846 826 844" stroke="#2a2a35" stroke-width="1.0" fill="none" stroke-linejoin="round" stroke-linecap="round" />
<ellipse cx="805" cy="831.5" rx="2.2" ry="1.6" transform="rotate(0 805 831.5)" stroke="#23232f" stroke-width="1.0" fill="#333"/>
<path d="M884 1040 L902 1034 L910 1039 L908 1080 L904 1090 L888 1094 L872 1088 L866 1080 L872 1060 Z" stroke="#23232f" stroke-width="1.3" fill="#fff" stroke-linejoin="round" stroke-linecap="round" />
<path d="M884 1040 L874 1060 L871 1078 M897 1047 L890 1093" stroke="#23232f" stroke-width="1.0" fill="none" stroke-linejoin="round" stroke-linecap="round" />
<ellipse cx="904" cy="1040" rx="4" ry="4" transform="rotate(0 904 1040)" stroke="#23232f" stroke-width="1.3" fill="none"/>
<path d="M867 1078 C866 1085 870 1090 875 1090" stroke="#44444f" stroke-width="2.0" fill="none" stroke-linejoin="round" stroke-linecap="round" />
<path d="M920 1088 L934 1081 L946 1080 L949 1088 L946 1126 L940 1136 L924 1138 L902 1136 L898 1141 L892 1136 L890 1120 L898 1112 L912 1104 L914 1096 Z" stroke="#23232f" stroke-width="1.3" fill="#fff" stroke-linejoin="round" stroke-linecap="round" />
<ellipse cx="945" cy="1085" rx="4" ry="4" transform="rotate(0 945 1085)" stroke="#23232f" stroke-width="1.3" fill="none"/>
<path d="M906 1106 L906 1136 M922 1104 L922 1136 M898 1112 L946 1104" stroke="#23232f" stroke-width="1.0" fill="none" stroke-linejoin="round" stroke-linecap="round" />
<ellipse cx="914" cy="1118" rx="2.5" ry="2.5" transform="rotate(0 914 1118)" stroke="#23232f" stroke-width="1.0" fill="none"/>
<ellipse cx="914" cy="1126" rx="2.5" ry="2.5" transform="rotate(0 914 1126)" stroke="#23232f" stroke-width="1.0" fill="none"/>
<path d="M932 1130 L944 1126 L944 1134 L934 1136 Z" stroke="#23232f" stroke-width="1.0" fill="#999" stroke-linejoin="round" stroke-linecap="round" />
<path d="M764 1006 L782 999 L798 1002 L820 1018 L828 1028 L830 1040 L824 1046 L808 1052 L800 1051 L794 1040 L780 1036 L772 1036 L764 1030 L762 1016 Z" stroke="#23232f" stroke-width="1.3" fill="#fff" stroke-linejoin="round" stroke-linecap="round" />
<path d="M772 1010 C770 1020 772 1030 780 1036" stroke="#23232f" stroke-width="1.0" fill="none" stroke-linejoin="round" stroke-linecap="round" />
<ellipse cx="806" cy="1044" rx="3.5" ry="2.5" transform="rotate(-20 806 1044)" stroke="#23232f" stroke-width="1.0" fill="none"/>
<ellipse cx="822" cy="1035" rx="3.5" ry="2.5" transform="rotate(-20 822 1035)" stroke="#23232f" stroke-width="1.0" fill="none"/>
<path d="M818 1060 L822 1066 M836 1052 L840 1058" stroke="#23232f" stroke-width="1.1" fill="none" stroke-linejoin="round" stroke-linecap="round" />
<circle cx="822" cy="1067" r="3" fill="#fff" stroke="#23232f" stroke-width="1.0"/>
<circle cx="840" cy="1059" r="3" fill="#fff" stroke="#23232f" stroke-width="1.0"/>
<path d="M848 1024 L872 1052" stroke="#222" stroke-width="1.2" fill="none" stroke-linejoin="round" stroke-linecap="round" stroke-dasharray="5 3"/>
<path d="M914 1050 L932 1070" stroke="#222" stroke-width="1.2" fill="none" stroke-linejoin="round" stroke-linecap="round" stroke-dasharray="5 3"/>
<path d="M640 1059.8 L703 1047.2 M640 1066.8 L703 1054.2" stroke="#23232f" stroke-width="1.2" fill="none" stroke-linejoin="round" stroke-linecap="round" />
<ellipse cx="640" cy="1063.3" rx="2.5" ry="3.5" transform="rotate(-10 640 1063.3)" stroke="#23232f" stroke-width="1.2" fill="#fff"/>
<path d="M703 1047.2 A3.5 3.5 0 0 1 703 1054.2" stroke="#23232f" stroke-width="1.2" fill="none" stroke-linejoin="round" stroke-linecap="round" />
<path d="M648 1070.9 L711 1057.5 M648 1077.9 L711 1064.5" stroke="#23232f" stroke-width="1.2" fill="none" stroke-linejoin="round" stroke-linecap="round" />
<ellipse cx="648" cy="1074.4" rx="2.5" ry="3.5" transform="rotate(-10 648 1074.4)" stroke="#23232f" stroke-width="1.2" fill="#fff"/>
<path d="M711 1057.5 A3.5 3.5 0 0 1 711 1064.5" stroke="#23232f" stroke-width="1.2" fill="none" stroke-linejoin="round" stroke-linecap="round" />
<path d="M628.8 1020.6 L646 1008 L654 1012.7 L652.6 1028.5 L633.6 1047.5 L627 1049 L626.5 1041 L632 1031.7 Z" stroke="#23232f" stroke-width="1.3" fill="#fff" stroke-linejoin="round" stroke-linecap="round" />
<path d="M630 1028 L652 1018 M631 1036 L651 1026" stroke="#23232f" stroke-width="1.0" fill="none" stroke-linejoin="round" stroke-linecap="round" />
<path d="M567.5 996 L574.5 973.5 L581.5 956 L588.5 945.5 L602.5 938.5 L623.5 931.5 L630.5 919 L632.3 903.5 L635.75 901.75 L644.5 910.5 L653.25 922.75 L656.75 935 L655 949 L651.5 956 L632.3 964.75 L613 973.5 L602.5 985.75 L599 996 Z" stroke="#5a0a06" stroke-width="1.0" fill="#f0160c" stroke-linejoin="round" stroke-linecap="round" />
<path d="M594.0 944.0 L597.0 966.0" stroke="#6a0804" stroke-width="1.2" fill="none" stroke-linejoin="round" stroke-linecap="round" />
<path d="M599.8 942.0 L602.8 963.4" stroke="#6a0804" stroke-width="1.2" fill="none" stroke-linejoin="round" stroke-linecap="round" />
<path d="M605.6 940.0 L608.6 960.8" stroke="#6a0804" stroke-width="2.2" fill="none" stroke-linejoin="round" stroke-linecap="round" />
<path d="M611.4 938.0 L614.4 958.2" stroke="#6a0804" stroke-width="2.2" fill="none" stroke-linejoin="round" stroke-linecap="round" />
<path d="M617.2 936.0 L620.2 955.6" stroke="#6a0804" stroke-width="2.2" fill="none" stroke-linejoin="round" stroke-linecap="round" />
<path d="M623.0 934.0 L626.0 953.0" stroke="#6a0804" stroke-width="2.2" fill="none" stroke-linejoin="round" stroke-linecap="round" />
<path d="M628.8 932.0 L631.8 950.4" stroke="#6a0804" stroke-width="1.2" fill="none" stroke-linejoin="round" stroke-linecap="round" />
<path d="M634.6 930.0 L637.6 947.8" stroke="#6a0804" stroke-width="1.2" fill="none" stroke-linejoin="round" stroke-linecap="round" />
<path d="M640.4 928.0 L643.4 945.2" stroke="#6a0804" stroke-width="1.2" fill="none" stroke-linejoin="round" stroke-linecap="round" />
<path d="M583 958 C588 966 590 978 589 992" stroke="#8a0c06" stroke-width="1.0" fill="none" stroke-linejoin="round" stroke-linecap="round" />
<path d="M638 912 L648 930 L647 950" stroke="#8a0c06" stroke-width="1.0" fill="none" stroke-linejoin="round" stroke-linecap="round" />
<circle cx="653" cy="928" r="2.4" fill="#5a0a06"/>
<circle cx="587" cy="985" r="1.8" fill="#5a0a06"/>
<path d="M652 927 L668 922 M648 958 L664 952" stroke="#23232f" stroke-width="1.4" fill="none" stroke-linejoin="round" stroke-linecap="round" />
<path d="M680.75 859 C676 850 677 838 688 826 C695 820 705 816 714.5 816.5" stroke="#23232f" stroke-width="1.2" fill="none" stroke-linejoin="round" stroke-linecap="round" />
<path d="M687.5 870.5 C695 873 703 874 710 872.75" stroke="#23232f" stroke-width="1.2" fill="none" stroke-linejoin="round" stroke-linecap="round" />
<path d="M707.75 818.75 L723.5 818.75 L723.5 866 L707.75 866 Z" stroke="#23232f" stroke-width="1.0" fill="none" stroke-linejoin="round" stroke-linecap="round" />
<circle cx="719" cy="819" r="3.5" fill="#fff" stroke="#23232f" stroke-width="1.2"/>
<circle cx="712.25" cy="866" r="3.5" fill="#fff" stroke="#23232f" stroke-width="1.2"/>
<circle cx="718.6" cy="891.3" r="3" fill="#fff" stroke="#23232f" stroke-width="1.0"/>
<path d="M681 838 L684 852" stroke="#44444f" stroke-width="2.0" fill="none" stroke-linejoin="round" stroke-linecap="round" />
<line x1="713" y1="868" x2="744.6" y2="903.5" stroke="#111" stroke-width="1.5"/>
<line x1="720" y1="822" x2="749.5" y2="856.4" stroke="#111" stroke-width="1.5"/>
<path d="M762.5 877.5 L827.5 853.75" stroke="#23232f" stroke-width="2.0" fill="none" stroke-linejoin="round" stroke-linecap="round" />
<path d="M762.5 877.5 C757 880 755 890 757 900 C758 905 762 907 766 905" stroke="#23232f" stroke-width="1.4" fill="none" stroke-linejoin="round" stroke-linecap="round" />
<path d="M768 882 C774 892 778 903 772 918 C770 922 768 925 766 927" stroke="#23232f" stroke-width="1.3" fill="none" stroke-linejoin="round" stroke-linecap="round" />
<path d="M765 927.5 C790 920 820 900 837.5 886 L850 875" stroke="#23232f" stroke-width="1.1" fill="none" stroke-linejoin="round" stroke-linecap="round" />
<path d="M800 886 L837.5 877.5" stroke="#555560" stroke-width="1.0" fill="none" stroke-linejoin="round" stroke-linecap="round" />
<path d="M790 880 C805 876 818 872 832 866" stroke="#555560" stroke-width="1.0" fill="none" stroke-linejoin="round" stroke-linecap="round" />
<circle cx="770" cy="890" r="4" fill="#fff" stroke="#23232f" stroke-width="1.6"/>
<circle cx="770" cy="890" r="1.6" fill="#444"/>
<circle cx="785" cy="906" r="4" fill="#fff" stroke="#23232f" stroke-width="1.6"/>
<circle cx="785" cy="906" r="1.6" fill="#444"/>
<path d="M783 896 C786 900 790 905 790 910 M779 900 C782 904 784 908 784 912" stroke="#23232f" stroke-width="1.0" fill="none" stroke-linejoin="round" stroke-linecap="round" />
<path d="M700 982.5 L737.5 973.75 L800 958.75 L837.5 950 L880 927.5" stroke="#23232f" stroke-width="1.1" fill="none" stroke-linejoin="round" stroke-linecap="round" />
<line x1="760" y1="870" x2="795" y2="910" stroke="#111" stroke-width="1.4"/>
<line x1="757.5" y1="917.5" x2="790" y2="955" stroke="#111" stroke-width="1.4"/>
<line x1="807.5" y1="925" x2="840" y2="965" stroke="#111" stroke-width="1.4"/>
<line x1="802.5" y1="972.5" x2="835" y2="1010" stroke="#111" stroke-width="1.4"/>
<line x1="852.5" y1="977.5" x2="885" y2="1017.5" stroke="#111" stroke-width="1.4"/>
<circle cx="712" cy="969" r="8.5" fill="#fff" stroke="#23232f" stroke-width="1.4"/>
<circle cx="712" cy="969" r="3.8" fill="none" stroke="#23232f" stroke-width="1.0"/>
<circle cx="668.4" cy="982" r="9.5" fill="#fff" stroke="#23232f" stroke-width="1.4"/>
<circle cx="668.4" cy="982" r="4.3" fill="none" stroke="#23232f" stroke-width="1.0"/>
<path d="M750 990 L776 976 C782 974 786 978 784 984 L760 998 C754 1000 748 996 750 990 Z" stroke="#23232f" stroke-width="1.2" fill="#fff" stroke-linejoin="round" stroke-linecap="round" />
<circle cx="757" cy="992" r="3" fill="#555" stroke="#23232f" stroke-width="1"/>
<circle cx="775" cy="982" r="3" fill="#555" stroke="#23232f" stroke-width="1"/>
<path d="M667.5 900 L692.5 922.5 L690 955 L660 970 L656 930 Z" stroke="#23232f" stroke-width="1.1" fill="#fff" stroke-linejoin="round" stroke-linecap="round" />
<path d="M660 930 L690 920 M660 952.5 L690 950 M667.5 900 L668 928" stroke="#23232f" stroke-width="1.0" fill="none" stroke-linejoin="round" stroke-linecap="round" />
<path d="M652 934 L668 929 M648 960 L662 955" stroke="#23232f" stroke-width="1.6" fill="none" stroke-linejoin="round" stroke-linecap="round" />
<path d="M674 905 L688 918 L686 945" stroke="#555560" stroke-width="1.0" fill="none" stroke-linejoin="round" stroke-linecap="round" />
<path d="M26.8 1082.6 L27.6 1068 L39 1060 L42.3 1038.7 L48.7 1024 L63.4 1016 L69.9 1019 L74.7 1046.9 L65 1053.4 L48.7 1081 L39 1087.5 Z" stroke="#23232f" stroke-width="1.3" fill="#fff" stroke-linejoin="round" stroke-linecap="round" />
<path d="M31 1080 L32 1070 L42 1063 L45.5 1041 L51 1027 L63 1020" stroke="#555560" stroke-width="1.0" fill="none" stroke-linejoin="round" stroke-linecap="round" />
<ellipse cx="59.3" cy="1038" rx="6" ry="6.5" transform="rotate(0 59.3 1038)" stroke="#23232f" stroke-width="1.3" fill="none"/>
<ellipse cx="60" cy="1039" rx="3.8" ry="4.2" transform="rotate(0 60 1039)" stroke="#23232f" stroke-width="1.0" fill="none"/>
<ellipse cx="39" cy="1073.7" rx="4.5" ry="4.5" transform="rotate(0 39 1073.7)" stroke="#23232f" stroke-width="1.3" fill="none"/>
<ellipse cx="39.5" cy="1074" rx="2.3" ry="2.3" transform="rotate(0 39.5 1074)" stroke="#23232f" stroke-width="0.9" fill="none"/>
<path d="M47 1052 L56 1048 L58 1056 L50 1064 Z" stroke="#23232f" stroke-width="1.0" fill="#e4e4ea" stroke-linejoin="round" stroke-linecap="round" />
<path d="M30 1070 C27 1074 27 1079 30 1082" stroke="#23232f" stroke-width="1.2" fill="none" stroke-linejoin="round" stroke-linecap="round" />
<path d="M76 1072 C74 1064 80 1058 88 1057 L97 1058 C99 1062 98 1068 95 1072 C92 1077 86 1079 81 1078 Z" stroke="#23232f" stroke-width="1.2" fill="#fff" stroke-linejoin="round" stroke-linecap="round" />
<path d="M78 1074 C77 1068 81 1063 87 1062" stroke="#555560" stroke-width="1.0" fill="none" stroke-linejoin="round" stroke-linecap="round" />
<ellipse cx="85" cy="1068" rx="4.5" ry="4" transform="rotate(0 85 1068)" stroke="#23232f" stroke-width="1.0" fill="none"/>
<ellipse cx="94" cy="1060" rx="1.6" ry="1.6" transform="rotate(0 94 1060)" stroke="#23232f" stroke-width="1.0" fill="#333"/>
<path d="M101 1067 L107 1074" stroke="#23232f" stroke-width="1.6" fill="none" stroke-linejoin="round" stroke-linecap="round" />
<circle cx="108" cy="1075" r="2.6" fill="#ddd" stroke="#23232f" stroke-width="1.0"/>
<path d="M141.4 1063 L154.4 1045 L175.5 1017.6 L195 1008 L203 1014.4 L206.4 1040.4 L178.7 1056.6 L161 1073 L152.7 1076 L141.4 1069.6 Z" stroke="#23232f" stroke-width="1.3" fill="#fff" stroke-linejoin="round" stroke-linecap="round" />
<path d="M145 1064 L157 1048 L177 1022 L196 1012" stroke="#555560" stroke-width="1.0" fill="none" stroke-linejoin="round" stroke-linecap="round" />
<ellipse cx="190" cy="1029" rx="6" ry="5.5" transform="rotate(0 190 1029)" stroke="#23232f" stroke-width="1.3" fill="none"/>
<ellipse cx="190.5" cy="1029.5" rx="3.6" ry="3.2" transform="rotate(0 190.5 1029.5)" stroke="#23232f" stroke-width="1.0" fill="none"/>
<ellipse cx="151" cy="1064.7" rx="4" ry="4" transform="rotate(0 151 1064.7)" stroke="#23232f" stroke-width="1.2" fill="none"/>
<path d="M162 1044 L175 1037 L173 1054 L164 1059 Z" stroke="#23232f" stroke-width="1.0" fill="#e4e4ea" stroke-linejoin="round" stroke-linecap="round" />
<path d="M165 1046 L171 1043 M165 1051 L171 1048 M165 1056 L170 1053" stroke="#23232f" stroke-width="0.9" fill="none" stroke-linejoin="round" stroke-linecap="round" />
<path d="M206 1064 C205 1056 210 1050 218 1049 L226 1050 C228 1055 227 1060 223 1064 C219 1068 213 1069 209 1067 Z" stroke="#23232f" stroke-width="1.2" fill="#fff" stroke-linejoin="round" stroke-linecap="round" />
<ellipse cx="215" cy="1060" rx="4.5" ry="4" transform="rotate(0 215 1060)" stroke="#23232f" stroke-width="1.0" fill="none"/>
<ellipse cx="224" cy="1052" rx="1.6" ry="1.6" transform="rotate(0 224 1052)" stroke="#23232f" stroke-width="1.0" fill="#333"/>
<path d="M232 1058 L238 1065" stroke="#23232f" stroke-width="1.6" fill="none" stroke-linejoin="round" stroke-linecap="round" />
<circle cx="239" cy="1066" r="2.6" fill="#ddd" stroke="#23232f" stroke-width="1.0"/>
<ellipse cx="211" cy="939" rx="6" ry="6" transform="rotate(0 211 939)" stroke="#23232f" stroke-width="1.2" fill="#fff"/>
<ellipse cx="252" cy="952" rx="7" ry="7" transform="rotate(0 252 952)" stroke="#23232f" stroke-width="1.3" fill="#fff"/>
<ellipse cx="252" cy="952" rx="3.5" ry="3.5" transform="rotate(0 252 952)" stroke="#23232f" stroke-width="1.0" fill="none"/>
<ellipse cx="292" cy="913" rx="6" ry="6" transform="rotate(0 292 913)" stroke="#23232f" stroke-width="1.2" fill="#fff"/>
<path d="M288 909 L294 906 L297 911" stroke="#23232f" stroke-width="1.0" fill="none" stroke-linejoin="round" stroke-linecap="round" />
<circle cx="144.4" cy="896.6" r="13" fill="#fff" stroke="#23232f" stroke-width="1.3"/>
<circle cx="146" cy="897.5" r="7" fill="#fff" stroke="#23232f" stroke-width="1.2"/>
<circle cx="147" cy="898" r="4" fill="none" stroke="#55555f" stroke-width="1.0"/>
<path d="M133 892 C132 898 135 905 140 908" stroke="#55555f" stroke-width="1.8" fill="none" stroke-linejoin="round" stroke-linecap="round" />
<path d="M54 779 L120 856 M39 787 L105 865.6" stroke="#23232f" stroke-width="1.3" fill="none" stroke-linejoin="round" stroke-linecap="round" />
<ellipse cx="42" cy="776" rx="11.5" ry="12" transform="rotate(0 42 776)" stroke="#23232f" stroke-width="1.4" fill="#fff"/>
<ellipse cx="46" cy="779" rx="7" ry="8" transform="rotate(0 46 779)" stroke="#23232f" stroke-width="1.0" fill="none"/>
<path d="M108 850 L121 862 L114 870 L102 860 Z" stroke="#23232f" stroke-width="1.0" fill="#333" stroke-linejoin="round" stroke-linecap="round" />
<ellipse cx="118" cy="865.6" rx="6" ry="6" transform="rotate(0 118 865.6)" stroke="#23232f" stroke-width="1.2" fill="#fff"/>
<path d="M632 1050 C640 1043 650 1030 658 1016 C663 1006 666 998 666 990" stroke="#23232f" stroke-width="1.2" fill="none" stroke-linejoin="round" stroke-linecap="round" />
<path d="M640 1052 C650 1042 660 1028 668 1012 C673 1002 676 994 677 986" stroke="#23232f" stroke-width="1.2" fill="none" stroke-linejoin="round" stroke-linecap="round" />
<path d="M670 1012 L700 1044" stroke="#23232f" stroke-width="1.0" fill="none" stroke-linejoin="round" stroke-linecap="round" />
<path d="M684 1005 C688 998 692 990 694 980" stroke="#23232f" stroke-width="1.0" fill="none" stroke-linejoin="round" stroke-linecap="round" />
<ellipse cx="626" cy="981" rx="2.2" ry="3.2" transform="rotate(0 626 981)" stroke="#23232f" stroke-width="1.2" fill="#555"/>
<ellipse cx="619" cy="1010" rx="2.5" ry="2" transform="rotate(0 619 1010)" stroke="#23232f" stroke-width="1.0" fill="none"/>
<circle cx="668.4" cy="982" r="6.5" fill="none" stroke="#23232f" stroke-width="1.8"/>
<circle cx="712" cy="969" r="5.5" fill="none" stroke="#23232f" stroke-width="1.6"/>
<line x1="694" y1="157.4" x2="605.8" y2="220.6" stroke="#111" stroke-width="1.7"/>
<line x1="720" y1="292.4" x2="616" y2="292.5" stroke="#111" stroke-width="1.7"/>
<line x1="720" y1="292.4" x2="637" y2="398" stroke="#111" stroke-width="1.7"/>
<line x1="742.4" y1="395.6" x2="652" y2="484" stroke="#111" stroke-width="1.7"/>
<line x1="828.4" y1="703.6" x2="819.4" y2="647.4" stroke="#111" stroke-width="1.7"/>
<line x1="914.3" y1="691.5" x2="907" y2="638.4" stroke="#111" stroke-width="1.7"/>
<line x1="817.8" y1="768.5" x2="806.6" y2="832" stroke="#111" stroke-width="1.7"/>
<line x1="1158.3" y1="311.7" x2="1228.3" y2="288.3" stroke="#111" stroke-width="1.7"/>
<line x1="1015" y1="790" x2="966" y2="848" stroke="#111" stroke-width="1.7"/>
<line x1="514" y1="1156.7" x2="476" y2="1012" stroke="#111" stroke-width="1.7"/>
<line x1="973" y1="995" x2="915" y2="1039" stroke="#111" stroke-width="1.7"/>
<line x1="1013" y1="1050" x2="946" y2="1086" stroke="#111" stroke-width="1.7"/>
<line x1="776" y1="1157" x2="795" y2="1044" stroke="#111" stroke-width="1.7"/>
<line x1="668.4" y1="1156.7" x2="684" y2="1074.4" stroke="#111" stroke-width="1.7"/>
<line x1="613" y1="1156.7" x2="633.6" y2="1052" stroke="#111" stroke-width="1.7"/>
<line x1="85.3" y1="1156.6" x2="39" y2="1087.5" stroke="#111" stroke-width="1.7"/>
<line x1="208" y1="1156.6" x2="161" y2="1076" stroke="#111" stroke-width="1.7"/>
<line x1="261" y1="976" x2="216" y2="941" stroke="#111" stroke-width="1.7"/>
<line x1="261" y1="976" x2="288" y2="918" stroke="#111" stroke-width="1.7"/>
<line x1="261" y1="976" x2="261.8" y2="1016" stroke="#111" stroke-width="1.7"/>
<line x1="216.6" y1="818.75" x2="150" y2="885.3" stroke="#111" stroke-width="1.7"/>
<line x1="165" y1="747.5" x2="82.5" y2="809.4" stroke="#111" stroke-width="1.7"/>
<line x1="634" y1="852.3" x2="716" y2="890" stroke="#111" stroke-width="1.7"/>
<line x1="323.5" y1="466.7" x2="417.5" y2="444" stroke="#111" stroke-width="1.7"/>
<line x1="1169" y1="131" x2="1250" y2="101" stroke="#111" stroke-width="1.7"/>
<line x1="541.75" y1="911.6" x2="580" y2="948" stroke="#111" stroke-width="1.3"/>
<circle cx="694" cy="157.4" r="17.6" fill="#fff" stroke="#111" stroke-width="1.75"/>
<path d="M696.93 165.90 L696.93 148.98" stroke="#111" stroke-width="2.28" fill="none"/>
<path d="M697.65 149.46 Q695.01 152.10 691.65 153.06" stroke="#111" stroke-width="2.04" fill="none"/>
<circle cx="720" cy="292.4" r="17.6" fill="#fff" stroke="#111" stroke-width="1.75"/>
<text x="713.33" y="300.90" font-size="24" fill="#111">2</text>
<circle cx="742.4" cy="395.6" r="17.6" fill="#fff" stroke="#111" stroke-width="1.75"/>
<text x="735.73" y="404.10" font-size="24" fill="#111">3</text>
<circle cx="828.4" cy="703.6" r="17.6" fill="#fff" stroke="#111" stroke-width="1.75"/>
<text x="821.73" y="712.10" font-size="24" fill="#111">4</text>
<circle cx="914.3" cy="691.5" r="17.6" fill="#fff" stroke="#111" stroke-width="1.75"/>
<text x="907.63" y="700.00" font-size="24" fill="#111">5</text>
<circle cx="817.8" cy="768.5" r="17.6" fill="#fff" stroke="#111" stroke-width="1.75"/>
<text x="811.13" y="777.00" font-size="24" fill="#111">6</text>
<circle cx="1158.3" cy="311.7" r="17.6" fill="#fff" stroke="#111" stroke-width="1.75"/>
<text x="1151.63" y="320.20" font-size="24" fill="#111">7</text>
<circle cx="1015" cy="790" r="17.6" fill="#fff" stroke="#111" stroke-width="1.75"/>
<text x="1008.33" y="798.50" font-size="24" fill="#111">8</text>
<circle cx="514" cy="1156.7" r="17.6" fill="#fff" stroke="#111" stroke-width="1.75"/>
<text x="507.33" y="1165.20" font-size="24" fill="#111">8</text>
<circle cx="973" cy="995" r="17.6" fill="#fff" stroke="#111" stroke-width="1.75"/>
<text x="966.33" y="1003.50" font-size="24" fill="#111">9</text>
<circle cx="1013" cy="1050" r="17.6" fill="#fff" stroke="#111" stroke-width="1.75"/>
<path d="M1009.66 1058.50 L1009.66 1041.58" stroke="#111" stroke-width="2.28" fill="none"/>
<path d="M1010.38 1042.06 Q1007.74 1044.70 1004.38 1045.66" stroke="#111" stroke-width="2.04" fill="none"/>
<text x="1012.60" y="1058.50" font-size="24" fill="#111">0</text>
<circle cx="776" cy="1157" r="17.6" fill="#fff" stroke="#111" stroke-width="1.75"/>
<path d="M772.66 1165.50 L772.66 1148.58" stroke="#111" stroke-width="2.28" fill="none"/>
<path d="M773.38 1149.06 Q770.74 1151.70 767.38 1152.66" stroke="#111" stroke-width="2.04" fill="none"/>
<path d="M785.20 1165.50 L785.20 1148.58" stroke="#111" stroke-width="2.28" fill="none"/>
<path d="M785.92 1149.06 Q783.28 1151.70 779.92 1152.66" stroke="#111" stroke-width="2.04" fill="none"/>
<circle cx="668.4" cy="1156.7" r="17.6" fill="#fff" stroke="#111" stroke-width="1.75"/>
<path d="M665.06 1165.20 L665.06 1148.28" stroke="#111" stroke-width="2.28" fill="none"/>
<path d="M665.78 1148.76 Q663.14 1151.40 659.78 1152.36" stroke="#111" stroke-width="2.04" fill="none"/>
<text x="668.00" y="1165.20" font-size="24" fill="#111">2</text>
<circle cx="613" cy="1156.7" r="17.6" fill="#fff" stroke="#111" stroke-width="1.75"/>
<path d="M609.66 1165.20 L609.66 1148.28" stroke="#111" stroke-width="2.28" fill="none"/>
<path d="M610.38 1148.76 Q607.74 1151.40 604.38 1152.36" stroke="#111" stroke-width="2.04" fill="none"/>
<text x="612.60" y="1165.20" font-size="24" fill="#111">3</text>
<circle cx="85.3" cy="1156.6" r="17.6" fill="#fff" stroke="#111" stroke-width="1.75"/>
<path d="M81.96 1165.10 L81.96 1148.18" stroke="#111" stroke-width="2.28" fill="none"/>
<path d="M82.68 1148.66 Q80.04 1151.30 76.68 1152.26" stroke="#111" stroke-width="2.04" fill="none"/>
<text x="84.90" y="1165.10" font-size="24" fill="#111">5</text>
<circle cx="208" cy="1156.6" r="17.6" fill="#fff" stroke="#111" stroke-width="1.75"/>
<path d="M204.66 1165.10 L204.66 1148.18" stroke="#111" stroke-width="2.28" fill="none"/>
<path d="M205.38 1148.66 Q202.74 1151.30 199.38 1152.26" stroke="#111" stroke-width="2.04" fill="none"/>
<text x="207.60" y="1165.10" font-size="24" fill="#111">6</text>
<circle cx="261" cy="976" r="17.6" fill="#fff" stroke="#111" stroke-width="1.75"/>
<path d="M257.66 984.50 L257.66 967.58" stroke="#111" stroke-width="2.28" fill="none"/>
<path d="M258.38 968.06 Q255.74 970.70 252.38 971.66" stroke="#111" stroke-width="2.04" fill="none"/>
<text x="260.60" y="984.50" font-size="24" fill="#111">7</text>
<circle cx="216.6" cy="818.75" r="17.6" fill="#fff" stroke="#111" stroke-width="1.75"/>
<path d="M213.26 827.25 L213.26 810.33" stroke="#111" stroke-width="2.28" fill="none"/>
<path d="M213.98 810.81 Q211.34 813.45 207.98 814.41" stroke="#111" stroke-width="2.04" fill="none"/>
<text x="216.20" y="827.25" font-size="24" fill="#111">8</text>
<circle cx="165" cy="747.5" r="17.6" fill="#fff" stroke="#111" stroke-width="1.75"/>
<path d="M161.66 756.00 L161.66 739.08" stroke="#111" stroke-width="2.28" fill="none"/>
<path d="M162.38 739.56 Q159.74 742.20 156.38 743.16" stroke="#111" stroke-width="2.04" fill="none"/>
<text x="164.60" y="756.00" font-size="24" fill="#111">9</text>
<circle cx="634" cy="852.3" r="17.6" fill="#fff" stroke="#111" stroke-width="1.75"/>
<text x="621.06" y="860.80" font-size="24" fill="#111">2</text>
<text x="633.60" y="860.80" font-size="24" fill="#111">0</text>
<circle cx="323.5" cy="466.7" r="17.6" fill="#fff" stroke="#111" stroke-width="1.75"/>
<text x="310.56" y="475.20" font-size="24" fill="#111">2</text>
<path d="M332.70 475.20 L332.70 458.28" stroke="#111" stroke-width="2.28" fill="none"/>
<path d="M333.42 458.76 Q330.78 461.40 327.42 462.36" stroke="#111" stroke-width="2.04" fill="none"/>
<circle cx="1169" cy="131" r="17.6" fill="#fff" stroke="#111" stroke-width="1.75"/>
<text x="1156.06" y="139.50" font-size="24" fill="#111">2</text>
<text x="1168.60" y="139.50" font-size="24" fill="#111">2</text>
<circle cx="541.75" cy="911.6" r="17.6" fill="#f2160c" stroke="#3a0505" stroke-width="1.7"/>
<path d="M540.42 919.80 L540.42 904.29" stroke="#4a0805" stroke-width="2.09" fill="none"/>
<path d="M541.08 904.73 Q538.66 907.15 535.58 908.03" stroke="#4a0805" stroke-width="1.87" fill="none"/>
<text x="543.25" y="919.80" font-size="22" fill="#4a0805">4</text>
</svg>
</body></html>
